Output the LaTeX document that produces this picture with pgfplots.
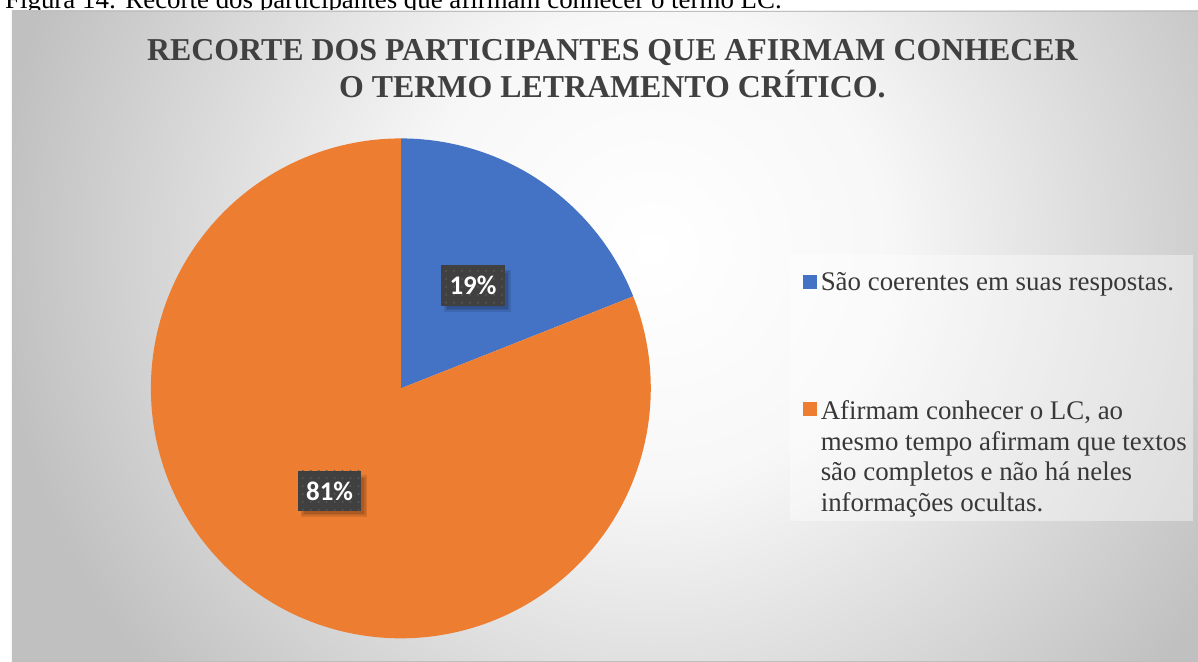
\documentclass[border=0pt]{standalone}
\usepackage{fontspec}
\setmainfont{Liberation Serif}
\newfontfamily\labelfont{Carlito}
\usepackage{pgfplots}
\pgfplotsset{compat=1.18}
\usepackage{pgfplotstable}
\usetikzlibrary{patterns.meta}
\definecolor{pieblue}{HTML}{4472C4}
\definecolor{pieorange}{HTML}{ED7D31}
\definecolor{titlegray}{HTML}{404040}
\definecolor{legtext}{HTML}{383838}
\definecolor{bggray}{HTML}{C0C0C0}
\definecolor{labelgray}{HTML}{404040}
\pgfdeclareradialshading{bgshade}{\pgfpoint{0bp}{0bp}}{color(0bp)=(white); color(9bp)=(white!97!black); color(25bp)=(bggray); color(50bp)=(bggray)}

\pgfplotstableread{
label value
A 19
B 81
}\piedata

\begin{document}
\pgfplotstablegetelem{0}{value}\of\piedata \let\va\pgfplotsretval
\pgfplotstablegetelem{1}{value}\of\piedata \let\vb\pgfplotsretval
\pgfmathsetmacro{\tot}{\va+\vb}
\pgfmathsetmacro{\aA}{90-360*\va/\tot}
\begin{tikzpicture}
\begin{axis}[scale only axis, width=1198pt, height=664pt,
  xmin=0, xmax=1198, ymin=0, ymax=664, hide axis, clip=true]
% caption above chart (partly cut)
\node[anchor=base west, inner sep=0pt, font=\fontsize{27}{30}\selectfont] at (axis cs:0,655)
  {Figura 14: Recorte dos participantes que afirmam conhecer o termo LC.};
% chart background
\begin{scope}
\clip (axis cs:7,0) rectangle (axis cs:1198,653);
\fill[bggray] (axis cs:7,0) rectangle (axis cs:1198,653);
\shade[shading=bgshade] (axis cs:-10,-246) rectangle (axis cs:1310,1074);
\end{scope}
\draw[gray!50, line width=0.8pt] (axis cs:7,0) rectangle (axis cs:1198,653);
% title
\node[align=center, font=\bfseries\fontsize{32}{38}\selectfont, text=titlegray] at (axis cs:610,595)
  {RECORTE DOS PARTICIPANTES QUE AFIRMAM CONHECER\\O TERMO LETRAMENTO CRÍTICO.};
% pie slices
\addplot[fill=pieblue, draw=none, domain=\aA:90, samples=120]
  ({397.5+251*cos(x)},{274+251*sin(x)}) -- (axis cs:397.5,274) -- cycle;
\addplot[fill=pieorange, draw=none, domain=-270:\aA, samples=300]
  ({397.5+251*cos(x)},{274+251*sin(x)}) -- (axis cs:397.5,274) -- cycle;
% data labels (soft shadow)
\fill[black, opacity=0.10] (axis cs:441,351) rectangle (axis cs:508,393);
\fill[black, opacity=0.10] (axis cs:442.5,352.5) rectangle (axis cs:506.5,391.5);
\fill[black, opacity=0.10] (axis cs:444,354) rectangle (axis cs:505,390);
\fill[black, opacity=0.10] (axis cs:297,145) rectangle (axis cs:364,187);
\fill[black, opacity=0.10] (axis cs:298.5,146.5) rectangle (axis cs:362.5,185.5);
\fill[black, opacity=0.10] (axis cs:300,148) rectangle (axis cs:361,184);
\node[preaction={fill=labelgray}, pattern={Dots[distance=8pt, radius=1.1pt]}, pattern color=white!12!labelgray,
  minimum width=64pt, minimum height=41pt, inner sep=0pt] at (axis cs:470,377.5) {};
\node[text=white, font=\labelfont\bfseries\fontsize{27}{30}\selectfont] at (axis cs:470,377.5) {19\%};
\node[preaction={fill=labelgray}, pattern={Dots[distance=8pt, radius=1.1pt]}, pattern color=white!12!labelgray,
  minimum width=64pt, minimum height=41pt, inner sep=0pt] at (axis cs:326,171) {};
\node[text=white, font=\labelfont\bfseries\fontsize{27}{30}\selectfont] at (axis cs:326,171) {81\%};
% legend
\fill[white, opacity=0.4] (axis cs:788,141) rectangle (axis cs:1193,408);
\fill[pieblue] (axis cs:801,374) rectangle (axis cs:815,388);
\node[anchor=base west, inner sep=0pt, text=legtext, font=\fontsize{27}{31}\selectfont] at (axis cs:819,372)
  {São coerentes em suas respostas.};
\fill[pieorange] (axis cs:801,246) rectangle (axis cs:815,260);
\node[anchor=base west, inner sep=0pt, text=legtext, font=\fontsize{27}{31}\selectfont] at (axis cs:819,243)
  {Afirmam conhecer o LC, ao};
\node[anchor=base west, inner sep=0pt, text=legtext, font=\fontsize{27}{31}\selectfont] at (axis cs:819,212)
  {mesmo tempo afirmam que textos};
\node[anchor=base west, inner sep=0pt, text=legtext, font=\fontsize{27}{31}\selectfont] at (axis cs:819,181)
  {são completos e não há neles};
\node[anchor=base west, inner sep=0pt, text=legtext, font=\fontsize{27}{31}\selectfont] at (axis cs:819,150)
  {informações ocultas.};
\end{axis}
\pgfresetboundingbox
\useasboundingbox (current axis.south west) rectangle (current axis.north east);
\end{tikzpicture}
\end{document}
